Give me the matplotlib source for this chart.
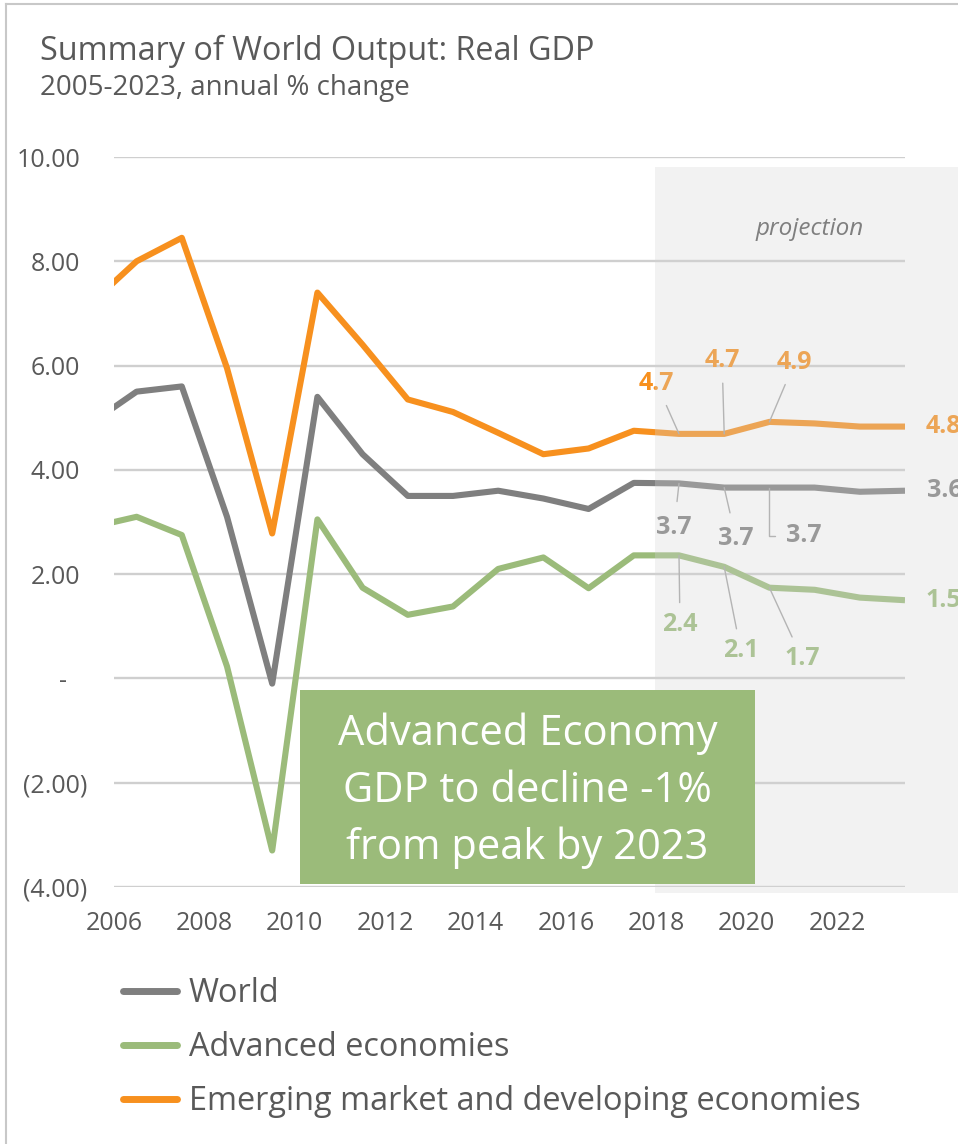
import numpy as np
import matplotlib
matplotlib.use("Agg")
import matplotlib.pyplot as plt
from matplotlib.lines import Line2D
from matplotlib.patches import Rectangle
from matplotlib.transforms import offset_copy

plt.rcParams['font.family'] = ['Open Sans', 'DejaVu Sans']

# data (IMF WEO style, annual % change)
years = list(range(2005, 2024))
world = [4.9, 5.5, 5.6, 3.1, -0.1, 5.4, 4.3, 3.5, 3.5, 3.6, 3.45, 3.25, 3.75,
         3.74, 3.66, 3.66, 3.66, 3.58, 3.6]
advanced = [2.9, 3.1, 2.75, 0.23, -3.3, 3.05, 1.74, 1.22, 1.38, 2.1, 2.32, 1.73, 2.36,
            2.36, 2.14, 1.74, 1.7, 1.55, 1.5]
emerging = [7.2, 8.0, 8.45, 5.95, 2.78, 7.4, 6.4, 5.35, 5.11, 4.71, 4.3, 4.41, 4.75,
            4.69, 4.69, 4.92, 4.89, 4.83, 4.83]
series_names = ['World', 'Advanced economies',
                'Emerging market and developing economies']
label_years = [2018, 2019, 2020]
ytick_values = [-4, -2, 0, 2, 4, 6, 8, 10]
xtick_labels = ['2006', '2008', '2010', '2012', '2014', '2016', '2018', '2020', '2022']
box_text = 'Advanced Economy\nGDP to decline -1%\nfrom peak by 2023'

GRAY = '#7F7F7F'
GREEN = '#9BBB7A'
ORANGE = '#F7901E'
TXT = '#595959'
LEADER = '#A6A6A6'

W, H = 958, 1144
fig = plt.figure(figsize=(W / 100, H / 100), dpi=100)
fig.patch.set_facecolor('white')


def fx(px):
    return px / W


def fy(py):
    return 1 - py / H


ax = fig.add_axes([fx(114), fy(887), fx(905) - fx(114), fy(157) - fy(887)])
ax.set_facecolor('none')

lw = 4.4
ax.plot(years, world, color=GRAY, lw=lw, solid_joinstyle='round', solid_capstyle='butt', zorder=3)
ax.plot(years, advanced, color=GREEN, lw=lw, solid_joinstyle='round', solid_capstyle='butt', zorder=3)
ax.plot(years, emerging, color=ORANGE, lw=lw, solid_joinstyle='round', solid_capstyle='butt', zorder=3)

ax.set_xlim(2005.5, 2023)
ax.set_ylim(-4, 10)
ax.set_yticks(ytick_values)


def fmt(v):
    if v == 0:
        return '-'
    if v < 0:
        return '(%.2f)' % abs(v)
    return '%.2f' % v


ax.set_yticklabels([fmt(v) for v in ytick_values])
ax.set_xticks(np.arange(2005.5, 2022, 2))
ax.set_xticklabels(xtick_labels)
ax.tick_params(axis='both', length=0, labelsize=18, labelcolor=TXT)
ax.tick_params(axis='y', pad=24.5)
ax.tick_params(axis='x', pad=17)
for s in ax.spines.values():
    s.set_visible(False)
ax.yaxis.grid(True, color='#CFCFCF', lw=1.7)
ax.xaxis.grid(False)
ax.set_axisbelow(True)

# accounting-style alignment of the y labels
for lab, v in zip(ax.get_yticklabels(), ytick_values):
    if v < 0:
        lab.set_transform(offset_copy(lab.get_transform(), fig=fig, x=7, y=0, units='dots'))
    elif v == 0:
        lab.set_transform(offset_copy(lab.get_transform(), fig=fig, x=-13, y=0, units='dots'))

# data labels with leader lines
lab_kw = dict(fontsize=18, fontweight='bold', ha='center', va='center',
              textcoords='offset points', annotation_clip=False, zorder=4)
arrow_kw = dict(arrowstyle='-', color=LEADER, lw=1.0, shrinkA=5, shrinkB=0)

orange_off = [(-16, 36), (-1.5, 52.5), (18, 42.5)]
gray_off = [(-3.5, -32), (8.5, -37), (24.5, -34.5)]
green_off = [(0.7, -50), (12, -60.5), (23.5, -51)]

for yr, off in zip(label_years, orange_off):
    v = emerging[years.index(yr)]
    ax.annotate('%.1f' % v, (yr, v), xytext=off, color=ORANGE,
                arrowprops=arrow_kw, **lab_kw)
for i, (yr, off) in enumerate(zip(label_years, gray_off)):
    v = world[years.index(yr)]
    if i == 2:
        ax.annotate('%.1f' % v, (yr, v), xytext=off, color=GRAY,
                    arrowprops=dict(arrow_kw, shrinkA=6, relpos=(0, 0.5),
                                    connectionstyle='angle,angleA=0,angleB=90,rad=0'),
                    **lab_kw)
    else:
        ax.annotate('%.1f' % v, (yr, v), xytext=off, color=GRAY,
                    arrowprops=dict(arrow_kw, shrinkA=8), **lab_kw)
for yr, off in zip(label_years, green_off):
    v = advanced[years.index(yr)]
    ax.annotate('%.1f' % v, (yr, v), xytext=off, color=GREEN,
                arrowprops=arrow_kw, **lab_kw)

# end-of-line labels (cut by the right edge, as in the original)
end_kw = dict(fontsize=18, fontweight='bold', ha='left', va='center',
              textcoords='offset points', annotation_clip=False, zorder=4)
ax.annotate('%.1f' % emerging[-1], (years[-1], emerging[-1]), xytext=(15, 0), color=ORANGE, **end_kw)
ax.annotate('%.1f' % world[-1], (years[-1], world[-1]), xytext=(16, 0), color=GRAY, **end_kw)
ax.annotate('%.1f' % advanced[-1], (years[-1], advanced[-1]), xytext=(14.5, 0), color=GREEN, **end_kw)

# projection shading (translucent, drawn over the lines)
fig.patches.append(Rectangle((fx(655), fy(893)), fx(W) - fx(655), fy(167) - fy(893),
                             transform=fig.transFigure, facecolor='#D5D5D5', alpha=0.31,
                             edgecolor='none', zorder=5))
fig.text(fx(810), fy(229), 'projection', fontsize=17.5, style='italic', color=GRAY,
         ha='center', va='center', zorder=7)

# callout box
fig.patches.append(Rectangle((fx(300), fy(884)), fx(755) - fx(300), fy(690) - fy(884),
                             transform=fig.transFigure, facecolor=GREEN,
                             edgecolor='none', zorder=6))
fig.text(fx(527.5), fy(791), box_text, fontsize=30, color='white', ha='center',
         va='center', linespacing=1.45, zorder=7)

# titles
fig.text(fx(40), fy(60), 'Summary of World Output: Real GDP', fontsize=23.3,
         color=TXT, ha='left', va='baseline')
fig.text(fx(40), fy(95), '2005-2023, annual % change', fontsize=20,
         color=TXT, ha='left', va='baseline')

# legend
handles = [Line2D([], [], color=c, lw=5, solid_capstyle='round')
           for c in (GRAY, GREEN, ORANGE)]
fig.legend(handles, series_names, loc='upper left',
           bbox_to_anchor=(fx(123), fy(977)), frameon=False, fontsize=23.4,
           labelcolor=TXT, handlelength=1.65, handletextpad=0.38,
           labelspacing=0.65, borderpad=0, borderaxespad=0)

# chart-area border (left and top edges)
fig.lines.append(Line2D([fx(6), fx(6)], [0, fy(4)], transform=fig.transFigure,
                        color='#C8C8C8', lw=1.5))
fig.lines.append(Line2D([fx(6), 1], [fy(4), fy(4)], transform=fig.transFigure,
                        color='#C8C8C8', lw=1.5))

fig.savefig('out.png', dpi=100, facecolor='white')
